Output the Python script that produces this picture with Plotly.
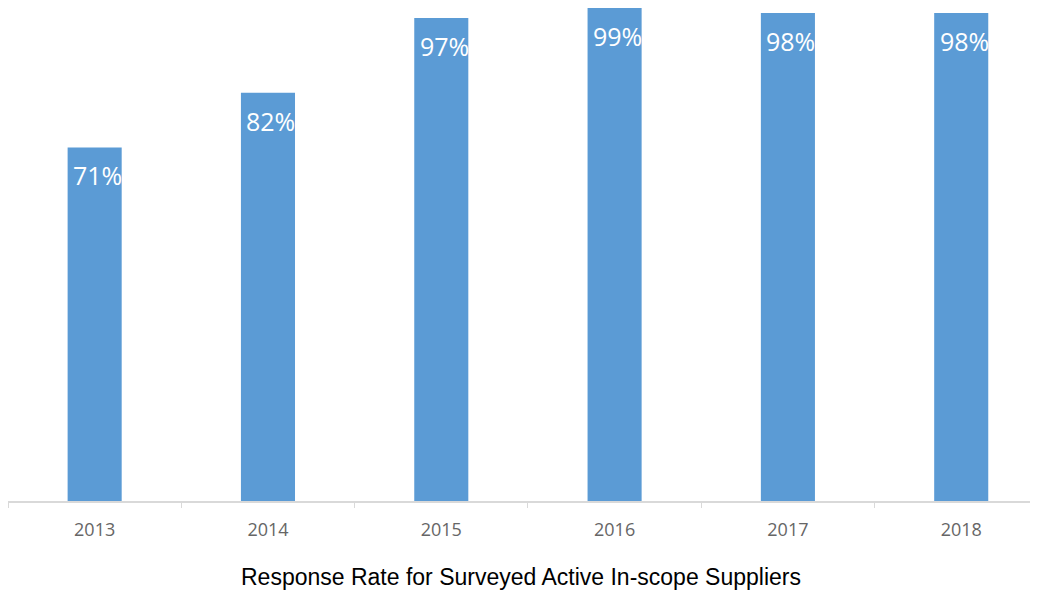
import plotly.graph_objects as go

years = ["2013", "2014", "2015", "2016", "2017", "2018"]
rates = [71, 82, 97, 99, 98, 98]
labels = ["71%", "82%", "97%", "99%", "98%", "98%"]
title_text = "Response Rate for Surveyed Active In-scope Suppliers"

BAR = "#5B9BD5"

fig = go.Figure()
fig.add_trace(go.Bar(x=years, y=rates, marker=dict(color=BAR, line=dict(width=0)),
                     hoverinfo="skip"))

annotations = []
for i, (v, lab) in enumerate(zip(rates, labels)):
    annotations.append(dict(x=i, y=v, xref="x", yref="y", text=lab, showarrow=False,
                            yanchor="top", xanchor="center", yshift=-9, xshift=3,
                            font=dict(family="Open Sans", size=25, color="white")))
annotations.append(dict(x=0.5, y=0, xref="paper", yref="paper", text=title_text,
                        showarrow=False, yanchor="middle", xanchor="center", yshift=-76,
                        xshift=-2,
                        font=dict(family="Liberation Sans, Arial", size=23, color="#000000")))

fig.update_layout(
    width=1030, height=587,
    margin=dict(l=0, r=0, t=0, b=94),
    paper_bgcolor="white", plot_bgcolor="white",
    bargap=0.688,
    showlegend=False,
    annotations=annotations,
    xaxis=dict(type="category", range=[-0.5, 5.443], showgrid=False, zeroline=False,
               showline=True, linecolor="#D9D9D9", linewidth=1.5,
               ticks="outside", tickson="boundaries", ticklen=5, tickcolor="#D9D9D9",
               tickfont=dict(family="Open Sans", size=18, color="#666666"),
               ticklabelstandoff=12),
    yaxis=dict(range=[0, 99.0], visible=False, showgrid=False, zeroline=False),
)

fig.write_html("out.html")
